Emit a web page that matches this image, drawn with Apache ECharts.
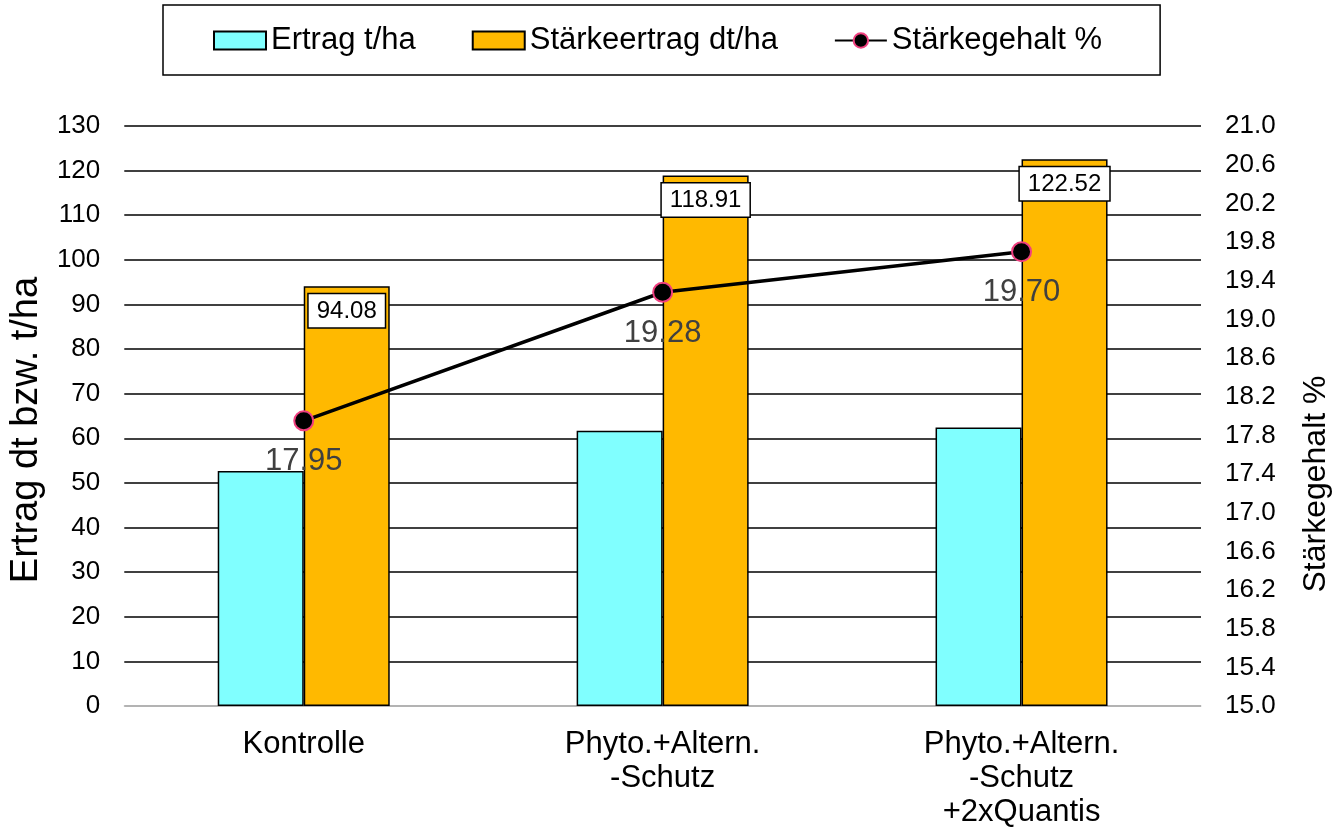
<!DOCTYPE html>
<html>
<head>
<meta charset="utf-8">
<script src="https://cdn.jsdelivr.net/npm/echarts@6/dist/echarts.min.js"></script>
<style>
html,body{margin:0;padding:0;background:#fff;}
#main{width:1340px;height:830px;}
</style>
</head>
<body>
<div id="main"></div>
<script>
const categories = ['Kontrolle', 'Phyto.+Altern.\n-Schutz', 'Phyto.+Altern.\n-Schutz\n+2xQuantis'];
const ertrag = [52.7, 61.7, 62.4];
const staerkeertrag = [94.08, 118.91, 122.52];
const staerkegehalt = [17.95, 19.28, 19.70];
const seriesNames = ['Ertrag t/ha', 'Stärkeertrag dt/ha', 'Stärkegehalt %'];

const FONT = '"Liberation Sans", Arial, sans-serif';
const chart = echarts.init(document.getElementById('main'), null, {renderer: 'canvas'});

chart.setOption({
  backgroundColor: '#fff',
  textStyle: {fontFamily: FONT},
  animation: false,
  legend: {
    top: 5,
    left: 163,
    padding: [20, 58, 19, 50],
    borderColor: '#000',
    borderWidth: 1.5,
    itemGap: 56,
    itemWidth: 52,
    itemHeight: 18,
    textStyle: {fontSize: 31, color: '#000', fontFamily: FONT},
    data: [
      {name: seriesNames[0], icon: 'rect'},
      {name: seriesNames[1], icon: 'rect'},
      {name: seriesNames[2]}
    ]
  },
  grid: {left: 124, right: 135, top: 126, bottom: 124, containLabel: false},
  xAxis: {
    type: 'category',
    data: categories,
    axisLine: {show: true, lineStyle: {color: '#d9d9d9', width: 1.5}},
    axisTick: {show: false},
    axisLabel: {fontSize: 31, color: '#000', lineHeight: 34, margin: 21, interval: 0, fontFamily: FONT}
  },
  yAxis: [
    {
      type: 'value', min: 0, max: 130, interval: 10,
      name: 'Ertrag dt bzw. t/ha',
      nameLocation: 'middle', nameGap: 72, nameRotate: 90,
      nameTextStyle: {fontSize: 38, color: '#000', fontFamily: FONT, padding: [0, 28, 0, 0]},
      axisLine: {show: false}, axisTick: {show: false},
      axisLabel: {fontSize: 26, color: '#000', margin: 24, fontFamily: FONT},
      splitLine: {show: true, lineStyle: {color: '#000', width: 1.5}}
    },
    {
      type: 'value', min: 15, max: 21, interval: 0.4,
      name: 'Stärkegehalt %',
      nameLocation: 'middle', nameGap: 99, nameRotate: 90,
      nameTextStyle: {fontSize: 32, color: '#000', fontFamily: FONT, padding: [0, 136, 0, 0]},
      position: 'right',
      axisLine: {show: false}, axisTick: {show: false},
      axisLabel: {fontSize: 26, color: '#000', margin: 24, fontFamily: FONT,
        formatter: v => v.toFixed(1)},
      splitLine: {show: false}
    }
  ],
  series: [
    {
      name: seriesNames[0], type: 'bar', data: ertrag,
      barWidth: 86, barGap: '0%',
      itemStyle: {color: '#80FFFF', borderColor: '#000', borderWidth: 1.5}
    },
    {
      name: seriesNames[1], type: 'bar', data: staerkeertrag,
      barWidth: 86, barGap: '0%',
      itemStyle: {color: '#FFB900', borderColor: '#000', borderWidth: 1.5},
      label: {
        show: true, position: 'insideTop', distance: 8,
        formatter: p => p.value.toFixed(2),
        fontSize: 24, color: '#000', fontFamily: FONT,
        backgroundColor: '#fff', borderColor: '#000', borderWidth: 1.5,
        padding: [5, 8, 4, 8]
      }
    },
    {
      name: seriesNames[2], type: 'line', yAxisIndex: 1, data: staerkegehalt,
      symbol: 'circle', symbolSize: 19,
      lineStyle: {color: '#000', width: 3.5},
      itemStyle: {color: '#000', borderColor: '#F0407F', borderWidth: 2},
      label: {
        show: true, position: 'bottom', distance: 15,
        formatter: p => p.value.toFixed(2),
        fontSize: 31, color: '#404040', fontFamily: FONT
      },
      z: 5
    }
  ]
});
</script>
</body>
</html>
